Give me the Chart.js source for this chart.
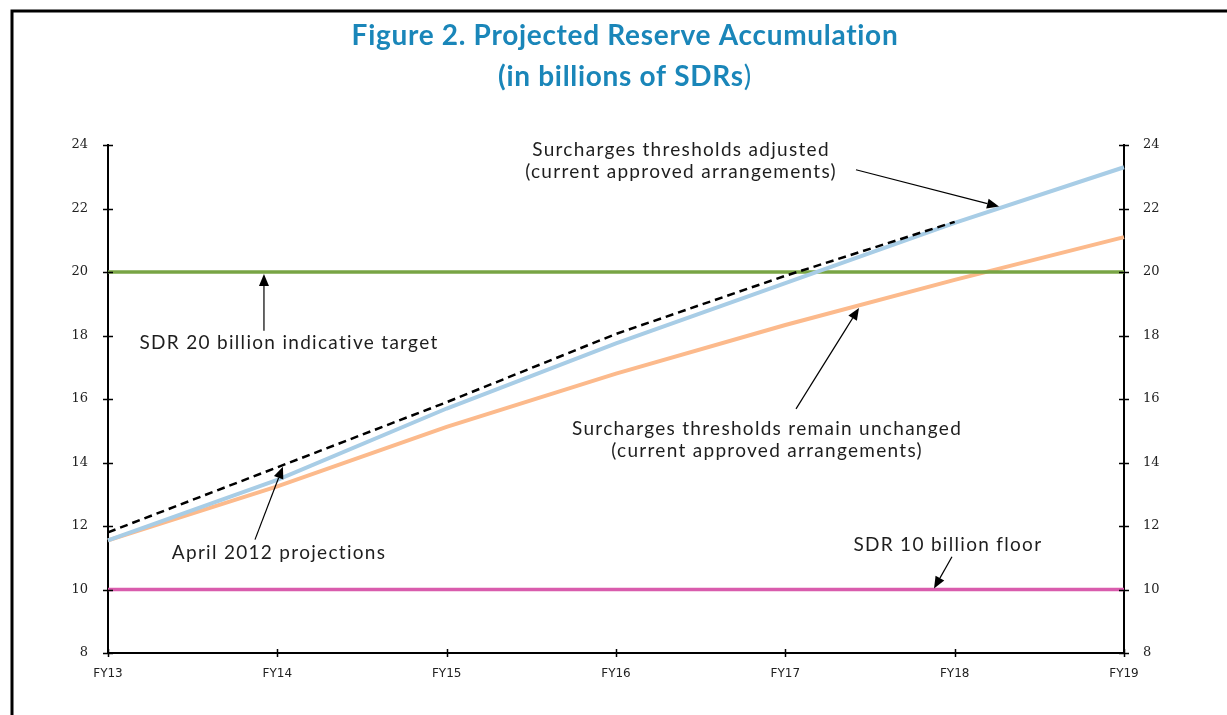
<!DOCTYPE html>
<html>
<head>
<meta charset="utf-8">
<script src="https://cdn.jsdelivr.net/npm/chart.js@4.4.1/dist/chart.umd.min.js"></script>
<style>
  html, body { margin: 0; padding: 0; background: #fff; }
  #wrap { width: 1227px; height: 715px; position: relative; }
</style>
</head>
<body>
<div id="wrap"><canvas id="reserveChart"></canvas></div>
<script>
// data
const years = ['FY13', 'FY14', 'FY15', 'FY16', 'FY17', 'FY18', 'FY19'];
const adjusted = [11.55, 13.45, 15.7, 17.75, 19.65, 21.55, 23.3];
const unchanged = [11.55, 13.25, 15.12, 16.8, 18.33, 19.75, 21.1];
const april2012 = [11.8, 13.85, 15.9, 18.05, 19.88, 21.58, null];
const target = [20, 20, 20, 20, 20, 20, 20];
const floor = [10, 10, 10, 10, 10, 10, 10];
const yTicks = [8, 10, 12, 14, 16, 18, 20, 22, 24];

const titleLines = ['Figure 2. Projected Reserve Accumulation', '(in billions of SDRs'];

// callouts, placed in data units (x = category index, y = SDR bn)
const notes = [
    { lines: ['Surcharges thresholds adjusted', '(current approved arrangements)'], at: [3.384, 23.86], from: [4.417, 23.22], to: [5.262, 22.06] },
    { lines: ['Surcharges thresholds remain unchanged', '(current approved arrangements)'], at: [3.892, 15.06], from: [4.063, 15.69], to: [4.435, 18.87] },
    { lines: ['SDR 20 billion indicative target'], at: [1.069, 17.77], from: [0.921, 18.15], to: [0.921, 19.94] },
    { lines: ['April 2012 projections'], at: [1.01, 11.16], from: [0.868, 11.57], to: [1.033, 13.87] },
    { lines: ['SDR 10 billion floor'], at: [4.96, 11.41], from: [4.984, 11.03], to: [4.878, 10.03] }
];

const decorPlugin = {
    id: 'decor',
    beforeDraw(chart) {
        const c = chart.ctx;
        c.save();
        c.fillStyle = '#fff';
        c.fillRect(0, 0, chart.width, chart.height);
        // frame
        c.strokeStyle = '#000';
        c.lineWidth = 3;
        c.beginPath();
        c.moveTo(12, chart.height + 2);
        c.lineTo(12, 11);
        c.lineTo(chart.width + 2, 11);
        c.stroke();
        // title
        c.fillStyle = '#1a86b9';
        c.textBaseline = 'middle';
        c.letterSpacing = '0.7px';
        c.textAlign = 'center';
        c.font = 'bold 28px Lato';
        c.fillText(titleLines[0], 625, 36);
        const w1 = c.measureText(titleLines[1]).width;
        c.font = '28px Lato';
        const w2 = c.measureText(')').width;
        const x0 = 625 - (w1 + w2) / 2;
        c.textAlign = 'left';
        c.font = 'bold 28px Lato';
        c.fillText(titleLines[1], x0, 77);
        c.font = '28px Lato';
        c.fillText(')', x0 + w1, 77);
        c.restore();
    },
    afterDraw(chart) {
        const c = chart.ctx;
        const xs = chart.scales.x, ys = chart.scales.y;
        const a = chart.chartArea;
        c.save();
        // tick marks crossing the axes
        c.strokeStyle = '#000';
        c.lineWidth = 1.5;
        c.beginPath();
        yTicks.forEach(v => {
            const py = Math.round(ys.getPixelForValue(v)) + 0.5;
            c.moveTo(a.left - 5, py); c.lineTo(a.left + 5, py);
            c.moveTo(a.right - 5, py); c.lineTo(a.right + 5, py);
        });
        years.forEach((y, i) => {
            const px = Math.round(xs.getPixelForValue(i)) + 0.5;
            c.moveTo(px, a.bottom - 4); c.lineTo(px, a.bottom + 4);
        });
        c.stroke();

        // callouts
        c.fillStyle = '#1e1e1e';
        c.strokeStyle = '#000';
        c.font = '19px Lato';
        c.letterSpacing = '1.3px';
        c.textAlign = 'center';
        c.textBaseline = 'middle';
        notes.forEach(n => {
            const tx = xs.getPixelForValue(n.at[0]);
            const ty = ys.getPixelForValue(n.at[1]);
            n.lines.forEach((t, k) => c.fillText(t, tx, ty + k * 22));
            const x1 = xs.getPixelForValue(n.from[0]), y1 = ys.getPixelForValue(n.from[1]);
            const x2 = xs.getPixelForValue(n.to[0]), y2 = ys.getPixelForValue(n.to[1]);
            const ang = Math.atan2(y2 - y1, x2 - x1);
            const hl = 12, hw = 5;
            c.lineWidth = 1.2;
            c.beginPath();
            c.moveTo(x1, y1);
            c.lineTo(x2 - hl * Math.cos(ang), y2 - hl * Math.sin(ang));
            c.stroke();
            c.beginPath();
            c.moveTo(x2, y2);
            c.lineTo(x2 - hl * Math.cos(ang) + hw * Math.sin(ang), y2 - hl * Math.sin(ang) - hw * Math.cos(ang));
            c.lineTo(x2 - hl * Math.cos(ang) - hw * Math.sin(ang), y2 - hl * Math.sin(ang) + hw * Math.cos(ang));
            c.closePath();
            c.fillStyle = '#000';
            c.fill();
            c.fillStyle = '#1e1e1e';
        });
        c.restore();
    }
};

const ctx = document.getElementById('reserveChart');

new Chart(ctx, {
    type: 'line',
    data: {
        labels: years,
        datasets: [{
            label: 'April 2012 projections',
            data: april2012,
            borderColor: '#000',
            borderWidth: 2.5,
            borderDash: [8, 5],
            order: 1
        }, {
            label: 'Surcharges thresholds adjusted',
            data: adjusted,
            borderColor: '#a8cde6',
            borderWidth: 4,
            order: 2
        }, {
            label: 'SDR 20 billion indicative target',
            data: target,
            borderColor: '#78a444',
            borderWidth: 3.5,
            order: 3
        }, {
            label: 'Surcharges thresholds remain unchanged',
            data: unchanged,
            borderColor: '#fcba8c',
            borderWidth: 4,
            order: 4
        }, {
            label: 'SDR 10 billion floor',
            data: floor,
            borderColor: '#d95cad',
            borderWidth: 3.5,
            order: 5
        }]
    },
    options: {
        responsive: true,
        maintainAspectRatio: false,
        animation: false,
        devicePixelRatio: 1,
        elements: {
            point: { radius: 0 },
            line: { tension: 0, borderCapStyle: 'butt' }
        },
        layout: {
            padding: { top: 145, left: 0, right: 0, bottom: 0 }
        },
        plugins: {
            legend: { display: false },
            tooltip: { enabled: false }
        },
        scales: {
            x: {
                offset: false,
                grid: { display: false, drawTicks: false },
                border: { color: '#000', width: 2 },
                ticks: {
                    color: '#222',
                    font: { family: 'DejaVu Sans', size: 12 },
                    padding: 14,
                    maxRotation: 0
                },
                afterFit(scale) { scale.height = 62; }
            },
            y: {
                position: 'left',
                min: 8,
                max: 24,
                grid: { display: false, drawTicks: false },
                border: { color: '#000', width: 2 },
                ticks: {
                    stepSize: 2,
                    color: '#222',
                    font: { family: 'DejaVu Serif', size: 13 },
                    padding: 20
                },
                afterFit(scale) { scale.width = 108; }
            },
            y1: {
                position: 'right',
                min: 8,
                max: 24,
                grid: { display: false, drawTicks: false },
                border: { color: '#000', width: 2 },
                ticks: {
                    stepSize: 2,
                    color: '#222',
                    font: { family: 'DejaVu Serif', size: 13 },
                    padding: 19
                },
                afterFit(scale) { scale.width = 103; }
            }
        }
    },
    plugins: [decorPlugin]
});
</script>
</body>
</html>
